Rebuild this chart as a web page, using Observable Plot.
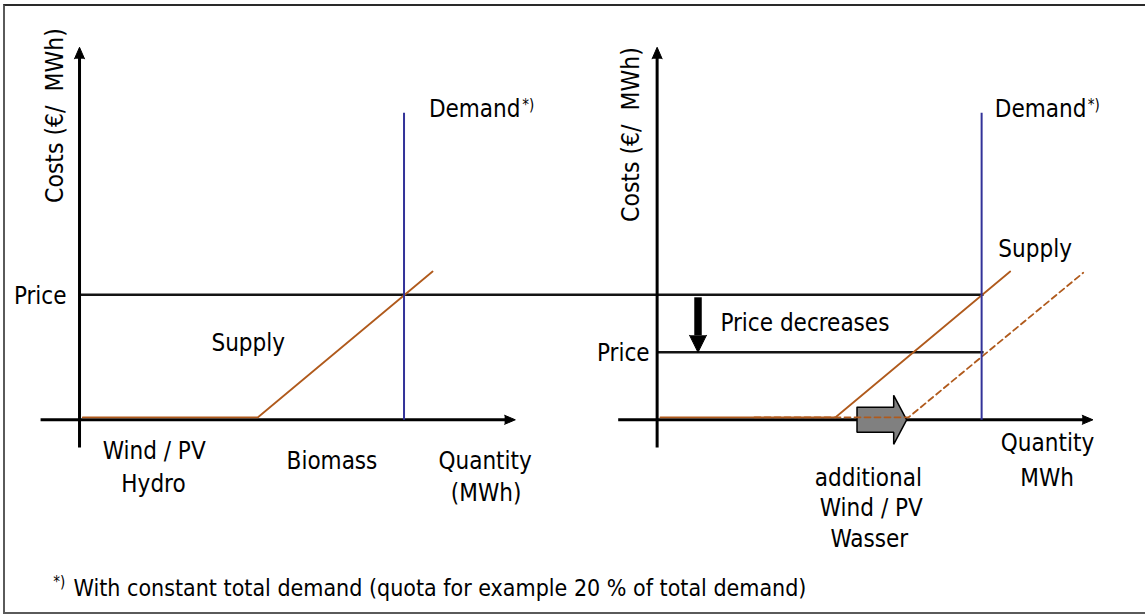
<!DOCTYPE html>
<html>
<head>
<meta charset="utf-8">
<script src="https://cdn.jsdelivr.net/npm/d3@7"></script>
<script src="https://cdn.jsdelivr.net/npm/@observablehq/plot@0.6"></script>
<style>
  html, body { margin: 0; padding: 0; background: #fff; overflow: hidden; width: 1145px; height: 615px; }
  #frame { position: absolute; left: 3px; top: 4px; width: 1170px; height: 610px; box-sizing: border-box;
           border: 2px solid #5a5a5a; border-top-color: #2a2a2a; }
  #chart { position: absolute; left: 0; top: 0; }
</style>
</head>
<body>
<div id="frame"></div>
<div id="chart"></div>
<script>
// ---------- values (chart units: quantity → x, cost → y) ----------
const panels = ["before", "after"];          // left: today, right: with additional Wind / PV
const panelShift = 178;                       // quantity units between the two panel origins

const demandQuantity = 100;                   // vertical demand line
const demandTop = 122.8;
const priceBefore = 50;                       // price where supply meets demand (left)
const priceAfter = 27;                        // lower price after more renewables (right)
const priceLineEnd = 100.6;

const supplyQuantity = [1, 55, 108.8];        // merit-order supply curve
const supplyCost     = [1, 1, 59.3];
const supplyShiftedQuantity = [30, 77.5, 131.3]; // supply shifted right (dashed)
const supplyShiftedCost     = [1, 1, 58.8];

const axisQuantity = [-12, 132];              // x axis extent (arrow tip beyond)
const axisCost = [-11.1, 146];                // y axis extent (arrow tip beyond)
const axisQuantityTip = 134.3;
const axisCostTip = 149;

const priceArrowQuantity = 12.6;
const priceArrowCost = [49, 33.8];

const shiftArrowQuantity = [61.6, 72.9, 76.9];   // body start, head start, tip
const shiftArrowCost = [5, 9.8];                  // body half height, head half height

const yTitle = "Costs (€/  MWh)";
const footnoteMark = "*)";
const footnote = "With constant total demand (quota for example 20 % of total demand)";

// annotation anchors (chart units, relative to each panel origin)
const labels = [
  {panel: "before", text: "Price", x: -4.0, y: 46.5, anchor: "end"},
  {panel: "before", text: "Supply", x: 52.0, y: 27.7, anchor: "middle"},
  {panel: "before", text: "Demand", x: 135.9, y: 121.3, anchor: "end"},
  {panel: "before", text: "Wind / PV", x: 23.0, y: -15.6, anchor: "middle"},
  {panel: "before", text: "Hydro", x: 22.8, y: -29.0, anchor: "middle"},
  {panel: "before", text: "Biomass", x: 77.8, y: -19.6, anchor: "middle"},
  {panel: "before", text: "Quantity", x: 125.0, y: -19.6, anchor: "middle"},
  {panel: "before", text: "(MWh)", x: 125.3, y: -32.3, anchor: "middle"},
  {panel: "after", text: "Price", x: -2.3, y: 23.4, anchor: "end"},
  {panel: "after", text: "Price decreases", x: 19.5, y: 35.7, anchor: "start"},
  {panel: "after", text: "Demand", x: 132.3, y: 121.3, anchor: "end"},
  {panel: "after", text: "Supply", x: 116.5, y: 65.0, anchor: "middle"},
  {panel: "after", text: "Quantity", x: 120.3, y: -12.3, anchor: "middle"},
  {panel: "after", text: "MWh", x: 120.2, y: -26.3, anchor: "middle"},
  {panel: "after", text: "additional", x: 65.1, y: -26.3, anchor: "middle"},
  {panel: "after", text: "Wind / PV", x: 66.0, y: -38.3, anchor: "middle"},
  {panel: "after", text: "Wasser", x: 65.4, y: -50.7, anchor: "middle"}
];
const superscripts = [
  {panel: "before", text: "*)", x: 136.4, y: 123.9},
  {panel: "after", text: "*)", x: 132.7, y: 123.9}
];
const yTitles = [
  {panel: "before", x: -5.2, y: 121.7},
  {panel: "after", x: -5.7, y: 114.1}
];

// ---------- build tables ----------
const X = (panel, q) => q + panelShift * panels.indexOf(panel);

const segments = [];
panels.forEach(p => {
  segments.push({kind: "axis", x1: X(p, 0), y1: axisCost[0], x2: X(p, 0), y2: axisCost[1]});
  segments.push({kind: "axis", x1: X(p, axisQuantity[0]), y1: 0, x2: X(p, axisQuantity[1]), y2: 0});
  segments.push({kind: "demand", x1: X(p, demandQuantity), y1: 0, x2: X(p, demandQuantity), y2: demandTop});
});
segments.push({kind: "price", x1: X("before", 0), y1: priceBefore, x2: X("after", priceLineEnd), y2: priceBefore});
segments.push({kind: "price", x1: X("after", 0), y1: priceAfter, x2: X("after", priceLineEnd), y2: priceAfter});
segments.push({kind: "drop", x1: X("after", priceArrowQuantity), y1: priceArrowCost[0], x2: X("after", priceArrowQuantity), y2: priceArrowCost[1]});

const curves = [];
panels.forEach(p => supplyQuantity.forEach((q, i) => curves.push({id: "supply-" + p, dashed: false, x: X(p, q), y: supplyCost[i]})));
supplyShiftedQuantity.forEach((q, i) => curves.push({id: "supply-shifted", dashed: true, x: X("after", q), y: supplyShiftedCost[i]}));

// filled shapes: axis arrow heads, price-drop arrow head, block arrow
const shapes = [];
const kx = 1.54, ky = 4.6, hx = 3.3, hy = 1.8;
panels.forEach(p => {
  [[-kx, axisCostTip - ky], [0, axisCostTip], [kx, axisCostTip - ky]]
    .forEach(([q, c]) => shapes.push({id: "yhead-" + p, x: X(p, q), y: c}));
  [[axisQuantityTip - hx, hy], [axisQuantityTip, 0], [axisQuantityTip - hx, -hy]]
    .forEach(([q, c]) => shapes.push({id: "xhead-" + p, x: X(p, q), y: c}));
});
[[priceArrowQuantity - 2.6, priceArrowCost[1]], [priceArrowQuantity, priceAfter], [priceArrowQuantity + 2.6, priceArrowCost[1]]]
  .forEach(([q, c]) => shapes.push({id: "drophead", x: X("after", q), y: c}));
const [b0, b1, tip] = shiftArrowQuantity, [bh, hh] = shiftArrowCost;
[[b0, bh], [b1, bh], [b1, hh], [tip, 0], [b1, -hh], [b1, -bh], [b0, -bh], [b0, bh]]
  .forEach(([q, c]) => shapes.push({id: "shift", x: X("after", q), y: c}));

const textRows = labels.map(d => ({...d, X: X(d.panel, d.x)}));
const supRows = superscripts.map(d => ({...d, X: X(d.panel, d.x)}));
const titleRows = yTitles.map(d => ({...d, text: yTitle, X: X(d.panel, d.x)}));
const footRows = [
  {text: footnoteMark, X: X("before", -8.1), y: -66.7, size: 15},
  {text: footnote, X: X("before", -1.85), y: -70.3, size: 23}
];

const font = "'DejaVu Sans Condensed', 'DejaVu Sans', sans-serif";
const supplyColor = "#b05a1c";
const textMark = anchor => Plot.text(textRows.filter(d => d.anchor === anchor),
  {x: "X", y: "y", text: "text", textAnchor: anchor, lineAnchor: "bottom", fontSize: 24, fill: "black"});

const chart = Plot.plot({
  width: 1145,
  height: 615,
  margin: 0,
  x: {domain: [-24.35, 328.5], axis: null},
  y: {domain: [-78.28, 167.72], axis: null},
  style: {fontFamily: font, fontStretch: "condensed", background: "transparent", color: "black"},
  marks: [
    Plot.link(segments.filter(d => d.kind === "price"), {x1: "x1", y1: "y1", x2: "x2", y2: "y2", stroke: "#141414", strokeWidth: 2.5}),
    Plot.link(segments.filter(d => d.kind === "axis"), {x1: "x1", y1: "y1", x2: "x2", y2: "y2", stroke: "black", strokeWidth: 3}),
    Plot.line(curves.filter(d => !d.dashed), {x: "x", y: "y", z: "id", stroke: supplyColor, strokeWidth: 1.8, strokeLinejoin: "miter"}),
    Plot.line(shapes.filter(d => d.id === "shift"), {x: "x", y: "y", z: "id", fill: "#808080", stroke: "black", strokeWidth: 1.5, strokeLinejoin: "miter"}),
    Plot.line(curves.filter(d => d.dashed), {x: "x", y: "y", z: "id", stroke: supplyColor, strokeWidth: 1.8, strokeDasharray: "6,4"}),
    Plot.link(segments.filter(d => d.kind === "demand"), {x1: "x1", y1: "y1", x2: "x2", y2: "y2", stroke: "#333399", strokeWidth: 2}),
    Plot.link(segments.filter(d => d.kind === "drop"), {x1: "x1", y1: "y1", x2: "x2", y2: "y2", stroke: "black", strokeWidth: 7.5, strokeLinecap: "butt"}),
    Plot.line(shapes.filter(d => d.id !== "shift"), {x: "x", y: "y", z: "id", fill: "black", stroke: "black", strokeWidth: 1}),
    textMark("start"),
    textMark("middle"),
    textMark("end"),
    Plot.text(supRows, {x: "X", y: "y", text: "text", textAnchor: "start", lineAnchor: "bottom", fontSize: 15, fill: "black"}),
    Plot.text(titleRows, {x: "X", y: "y", text: "text", rotate: -90, textAnchor: "middle", lineAnchor: "bottom", fontSize: 24.5, fill: "black"}),
    Plot.text(footRows, {x: "X", y: "y", text: "text", textAnchor: "start", lineAnchor: "bottom", fontSize: "size", fill: "black"})
  ]
});
document.getElementById("chart").appendChild(chart);
</script>
</body>
</html>
